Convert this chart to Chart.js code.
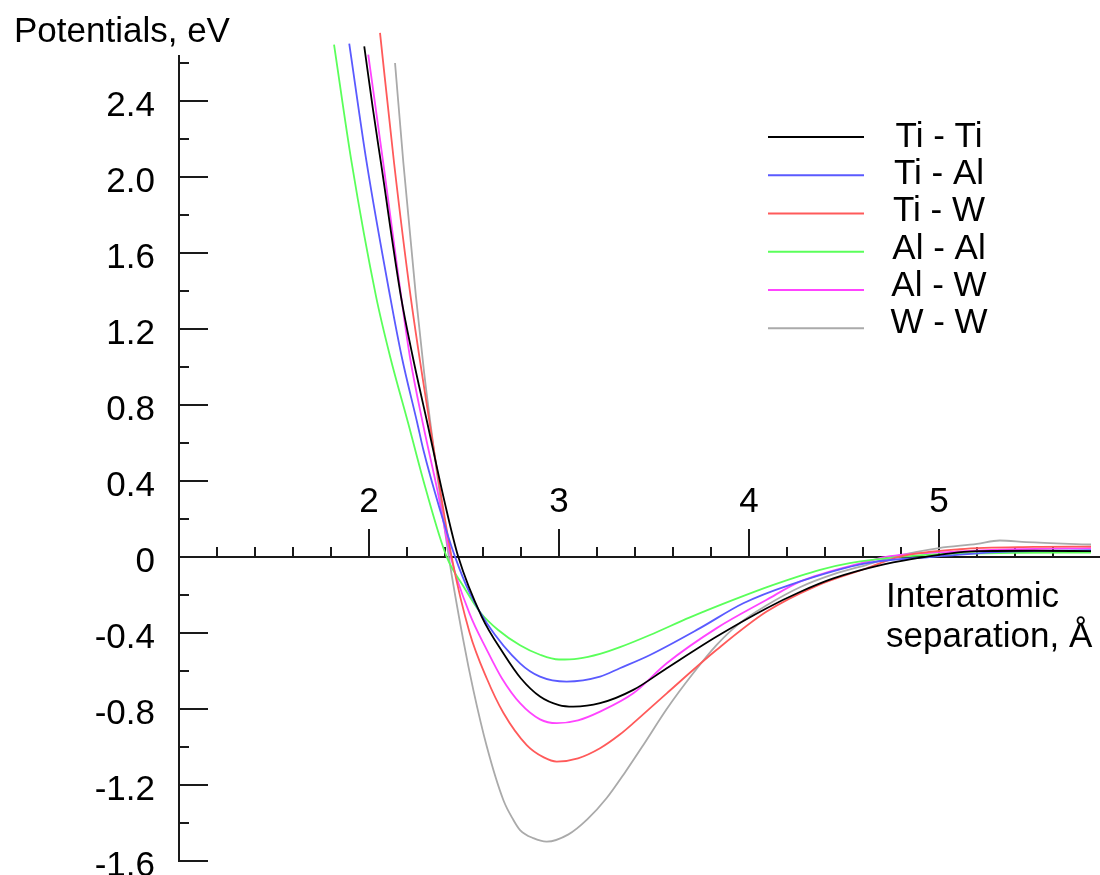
<!DOCTYPE html>
<html lang="en">
    <head>
        <meta charset="UTF-8" />
        <title>Interatomic potentials</title>
        <script src="https://cdn.jsdelivr.net/npm/chart.js"></script>
        <style>
            html,
            body {
                margin: 0;
                padding: 0;
                background: #ffffff;
            }
            .chart-container {
                position: relative;
                width: 1100px;
                height: 875px;
            }
        </style>
    </head>
    <body>
        <div class="chart-container">
            <canvas id="potChart"></canvas>
        </div>

        <script>
            const seriesNames = ["Ti - Ti", "Ti - Al", "Ti - W", "Al - Al", "Al - W", "W - W"];
            const seriesColors = ["#000000", "#5a5aff", "#ff5a5a", "#5aff5a", "#ff44ff", "#aaaaaa"];

            // separation (Angstrom) and potential (eV)
            const sepTiTi = [1.975, 2.02, 2.063, 2.168, 2.23, 2.307, 2.4, 2.47, 2.593, 2.707, 2.8, 2.9, 3.0, 3.075, 3.216, 3.391, 3.567, 3.83, 4.093, 4.268, 4.44, 4.71, 4.93, 5.2, 5.5, 5.8];
            const potTiTi = [2.686, 2.36, 2.072, 1.37, 1.054, 0.704, 0.28, 0, -0.314, -0.507, -0.64, -0.735, -0.78, -0.788, -0.77, -0.7, -0.586, -0.419, -0.27, -0.185, -0.115, -0.04, 0, 0.03, 0.032, 0.03];

            const sepTiAl = [1.896, 1.988, 2.111, 2.172, 2.254, 2.286, 2.37, 2.453, 2.53, 2.62, 2.795, 2.9, 3.04, 3.216, 3.32, 3.479, 3.742, 3.97, 4.216, 4.62, 4.97, 5.3, 5.8];
            const potTiAl = [2.7, 2.072, 1.37, 1.054, 0.704, 0.563, 0.26, 0, -0.19, -0.349, -0.56, -0.63, -0.656, -0.63, -0.586, -0.516, -0.375, -0.244, -0.147, -0.033, 0, 0.025, 0.035];

            const sepTiW = [2.058, 2.132, 2.219, 2.32, 2.435, 2.53, 2.62, 2.707, 2.83, 2.92, 2.988, 3.1, 3.216, 3.32, 3.391, 3.567, 3.83, 4.093, 4.35, 4.62, 4.79, 5.11, 5.5, 5.8];
            const potTiW = [2.756, 2.072, 1.37, 0.7, 0, -0.4, -0.64, -0.82, -0.99, -1.055, -1.077, -1.06, -1.007, -0.935, -0.875, -0.718, -0.489, -0.288, -0.155, -0.06, 0, 0.04, 0.052, 0.054];

            const sepAlAl = [1.816, 1.909, 2.037, 2.111, 2.207, 2.295, 2.409, 2.5, 2.584, 2.68, 2.795, 2.9, 3.0, 3.1, 3.216, 3.321, 3.479, 3.689, 3.917, 4.128, 4.374, 4.53, 4.79, 5.06, 5.4, 5.8];
            const potAlAl = [2.695, 2.072, 1.37, 1.054, 0.7, 0.37, 0, -0.16, -0.29, -0.385, -0.465, -0.515, -0.54, -0.535, -0.51, -0.475, -0.411, -0.318, -0.226, -0.147, -0.068, -0.033, 0, 0.016, 0.021, 0.023];

            const sepAlW = [1.996, 2.075, 2.165, 2.215, 2.283, 2.36, 2.43, 2.53, 2.62, 2.7, 2.795, 2.9, 2.988, 3.1, 3.216, 3.391, 3.567, 3.83, 4.093, 4.268, 4.62, 4.72, 5.06, 5.4, 5.8];
            const potAlW = [2.642, 2.072, 1.4, 1.054, 0.704, 0.35, 0, -0.3, -0.489, -0.64, -0.77, -0.855, -0.875, -0.86, -0.814, -0.718, -0.56, -0.375, -0.226, -0.13, -0.025, 0, 0.026, 0.04, 0.046];

            const sepWW = [2.137, 2.181, 2.247, 2.29, 2.35, 2.42, 2.496, 2.549, 2.62, 2.707, 2.76, 2.795, 2.865, 2.935, 3.05, 3.15, 3.25, 3.35, 3.45, 3.567, 3.7, 3.83, 3.95, 4.093, 4.268, 4.45, 4.62, 4.76, 5.0, 5.2, 5.32, 5.46, 5.8];
            const potWW = [2.598, 2.072, 1.37, 0.97, 0.5, 0, -0.437, -0.7, -0.998, -1.279, -1.384, -1.437, -1.48, -1.498, -1.46, -1.38, -1.27, -1.13, -0.98, -0.8, -0.62, -0.463, -0.35, -0.255, -0.16, -0.09, -0.042, 0, 0.046, 0.068, 0.086, 0.077, 0.065];

            const sepSeries = [sepTiTi, sepTiAl, sepTiW, sepAlAl, sepAlW, sepWW];
            const potSeries = [potTiTi, potTiAl, potTiW, potAlAl, potAlW, potWW];

            const xMajorTicks = [2, 3, 4, 5];
            const xMinorTicks = [1.2, 1.4, 1.6, 1.8, 2.2, 2.4, 2.6, 2.8, 3.2, 3.4, 3.6, 3.8, 4.2, 4.4, 4.6, 4.8, 5.2, 5.4, 5.6];
            const yMajorTicks = [-1.6, -1.2, -0.8, -0.4, 0, 0.4, 0.8, 1.2, 1.6, 2.0, 2.4];
            const yMinorTicks = [-1.4, -1.0, -0.6, -0.2, 0.2, 0.6, 1.0, 1.4, 1.8, 2.2, 2.6];

            const yTitle = "Potentials, eV";
            const xTitle = ["Interatomic", "separation, \u00c5"];

            const FONT = "35px 'Liberation Sans', Arial, sans-serif";

            // axes cross at (1, 0); ticks and labels drawn off the chart's scales
            const axesPlugin = {
                id: "crossAxes",
                beforeDatasetsDraw(chart) {
                    const ctx = chart.ctx;
                    const xs = chart.scales.x;
                    const ys = chart.scales.y;
                    const x0 = Math.round(xs.getPixelForValue(1));
                    const y0 = Math.round(ys.getPixelForValue(0));

                    ctx.save();
                    ctx.strokeStyle = "#1a1a1a";
                    ctx.lineWidth = 2;
                    ctx.beginPath();
                    ctx.moveTo(x0, ys.getPixelForValue(ys.max));
                    ctx.lineTo(x0, ys.getPixelForValue(ys.min) + 1);
                    ctx.moveTo(x0, y0);
                    ctx.lineTo(chart.width, y0);

                    yMajorTicks.forEach((v) => {
                        const py = Math.round(ys.getPixelForValue(v));
                        ctx.moveTo(x0, py);
                        ctx.lineTo(x0 + 29, py);
                    });
                    yMinorTicks.forEach((v) => {
                        const py = Math.round(ys.getPixelForValue(v));
                        ctx.moveTo(x0, py);
                        ctx.lineTo(x0 + 10, py);
                    });
                    xMajorTicks.forEach((v) => {
                        const px = Math.round(xs.getPixelForValue(v));
                        ctx.moveTo(px, y0);
                        ctx.lineTo(px, y0 - 28);
                    });
                    xMinorTicks.forEach((v) => {
                        const px = Math.round(xs.getPixelForValue(v));
                        ctx.moveTo(px, y0);
                        ctx.lineTo(px, y0 - 10);
                    });
                    ctx.stroke();

                    ctx.fillStyle = "#000000";
                    ctx.font = FONT;
                    ctx.textBaseline = "alphabetic";
                    ctx.textAlign = "right";
                    yMajorTicks.forEach((v) => {
                        const label = v === 0 ? "0" : v.toFixed(1);
                        ctx.fillText(label, x0 - 24, ys.getPixelForValue(v) + 15);
                    });
                    ctx.textAlign = "center";
                    xMajorTicks.forEach((v) => {
                        ctx.fillText(String(v), xs.getPixelForValue(v), y0 - 45);
                    });

                    ctx.textAlign = "left";
                    ctx.fillText(yTitle, 14, 42);
                    ctx.fillText(xTitle[0], 886, 607);
                    ctx.fillText(xTitle[1], 886, 647);
                    ctx.restore();
                },
            };

            const legendPlugin = {
                id: "insideLegend",
                afterDatasetsDraw(chart) {
                    const ctx = chart.ctx;
                    ctx.save();
                    ctx.font = FONT;
                    ctx.textAlign = "center";
                    ctx.textBaseline = "alphabetic";
                    chart.data.datasets.forEach((ds, i) => {
                        const ly = 137 + i * 38.25;
                        ctx.strokeStyle = ds.borderColor;
                        ctx.lineWidth = 2;
                        ctx.beginPath();
                        ctx.moveTo(768, ly);
                        ctx.lineTo(864, ly);
                        ctx.stroke();
                        ctx.fillStyle = "#000000";
                        ctx.fillText(ds.label, 939, 147 + i * 37.2);
                    });
                    ctx.restore();
                },
            };

            const datasets = seriesNames.map((name, i) => ({
                label: name,
                data: sepSeries[i].map((x, j) => ({ x: x, y: potSeries[i][j] })),
                borderColor: seriesColors[i],
                backgroundColor: seriesColors[i],
                borderWidth: 1.8,
                pointRadius: 0,
                cubicInterpolationMode: "monotone",
                clip: false,
                fill: false,
            }));

            const ctx = document.getElementById("potChart").getContext("2d");
            new Chart(ctx, {
                type: "line",
                data: { datasets: datasets },
                options: {
                    responsive: true,
                    maintainAspectRatio: false,
                    animation: false,
                    events: [],
                    layout: {
                        padding: { left: 179, right: 0, top: 55, bottom: 14 },
                    },
                    plugins: {
                        legend: { display: false },
                        tooltip: { enabled: false },
                    },
                    scales: {
                        x: {
                            type: "linear",
                            min: 1,
                            max: 1 + 921 / 190,
                            display: false,
                        },
                        y: {
                            type: "linear",
                            min: -1.6,
                            max: 2.64,
                            display: false,
                        },
                    },
                },
                plugins: [axesPlugin, legendPlugin],
            });
        </script>
    </body>
</html>
